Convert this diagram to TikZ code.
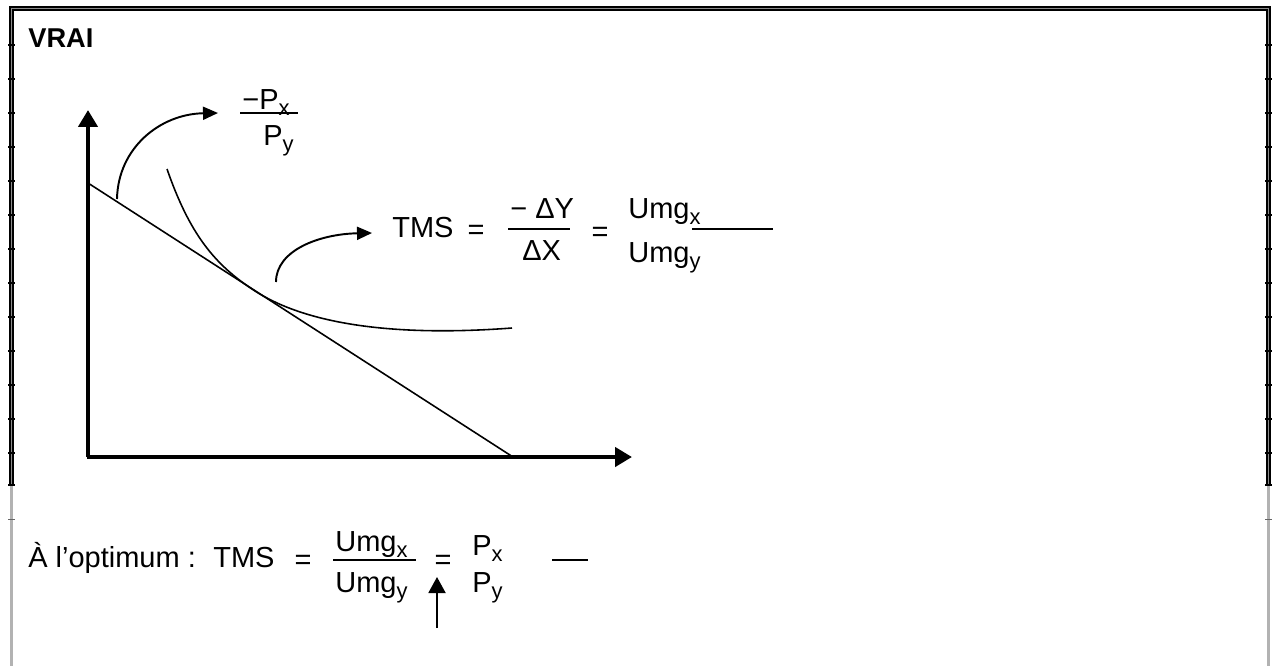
\documentclass[tikz,border=0pt]{standalone}
\usepackage{fontspec}
\setmainfont{Liberation Sans}
\usetikzlibrary{arrows.meta,calc}

\newcommand{\txtsize}{\fontsize{16.5}{19}\selectfont}
\newcommand{\sbx}[1]{\raisebox{-0.22em}{\fontsize{12.5}{14}\selectfont #1}}

\begin{document}
\begin{tikzpicture}[
  x=0.02cm, y=-0.02cm,
  txt/.style={inner sep=0pt, font=\txtsize, anchor=base west},
  eqs/.style={inner sep=0pt, font=\txtsize, anchor=base},
  fbar/.style={line width=0.85pt},
  axis/.style={line width=2.8pt, -{Triangle[length=0.34cm, width=0.38cm]}},
  curvarr/.style={line width=1.1pt, -{Triangle[length=0.3cm, width=0.26cm]}},
  upar/.style={line width=1.1pt, -{Triangle[length=0.32cm, width=0.34cm]}},
  thin/.style={line width=0.9pt},
  frameA/.style={draw=black, double=black!45, line width=0.85pt, double distance=0.85pt},
  frameB/.style={draw=black!60, double=black!30, line width=0.5pt, double distance=1.2pt},
]
\useasboundingbox (0,0) rectangle (1277,666);

%% Frame
\coordinate (tl) at (11.5,8.5);
\coordinate (tr) at (1268.5,8.5);
\coordinate (lm) at (11.5,485);
\coordinate (rm) at (1268.5,485);
\coordinate (lb) at (11.5,666);
\coordinate (rb) at (1268.5,666);
\draw[frameA] (lm) -- (tl) -- (tr) -- (rm);
\draw[frameB] (lm) -- (lb);
\draw[frameB] (rm) -- (rb);
\foreach \ty in {45,79,...,453,485}{
  \draw[line width=0.6pt] (8,\ty) -- (15,\ty);
  \draw[line width=0.6pt] (1265,\ty) -- (1272,\ty);
}
\draw[line width=0.5pt, black!60] (8,519) -- (15,519);
\draw[line width=0.5pt, black!60] (1265,519) -- (1272,519);

%% Title
\node[inner sep=0pt, anchor=base west, font=\fontsize{15.5}{18}\selectfont\bfseries] (vrai) at (28,47) {VRAI};

%% Axes
\coordinate (O) at (88,457);
\coordinate (ytop) at (88,110);
\coordinate (xend) at (632,457);
\draw[axis] (O) -- (ytop);
\draw[axis] ($(O)+(-1.4,0)$) -- (xend);

%% Budget line and indifference curve
\coordinate (bA) at (88,183);
\coordinate (bB) at (513,457);
\draw[thin] (bA) -- (bB);
\coordinate (cA) at (167,169);
\coordinate (tang) at (255,291);
\coordinate (cB) at (512,328);
\draw[thin] (cA) .. controls (190,235) and (215,265) .. (tang)
            .. controls (300,320) and (380,338) .. (cB);

%% Slope of budget line
\node[txt] (px1) at (242,109) {−P\sbx{x}};
\node[txt] (py1) at (263,145) {P\sbx{y}};
\draw[fbar] (240,113) -- (298,113);
\coordinate (a1s) at (117,199);
\coordinate (a1e) at (218,113);
\draw[curvarr] (a1s) .. controls (118,148) and (160,114) .. (a1e);

%% TMS on the curve
\coordinate (a2s) at (276,282);
\coordinate (a2e) at (372,233);
\draw[curvarr] (a2s) .. controls (276,250) and (320,234) .. (a2e);
\node[txt] (tms1) at (392,237) {TMS};
\node[eqs] (eq1) at (476,239) {=};
\node[txt] (dy) at (510,218) {− ΔY};
\node[txt] (dx) at (522,260) {ΔX};
\draw[fbar] (508,229) -- (570,229);
\node[eqs] (eq2) at (600,241) {=};
\node[txt] (umgx1) at (628,218) {Umg\sbx{x}};
\node[txt] (umgy1) at (628,262) {Umg\sbx{y}};
\draw[fbar] (692,229) -- (773,229);

%% Optimum condition
\node[txt] (opt) at (28,567) {À l’optimum :};
\node[txt] (tms2) at (213,567) {TMS};
\node[eqs] (eq3) at (303,569) {=};
\node[txt] (umgx2) at (335,551) {Umg\sbx{x}};
\node[txt] (umgy2) at (335,592) {Umg\sbx{y}};
\draw[fbar] (333,560) -- (416,560);
\node[eqs] (eq4) at (443,569) {=};
\node[txt] (px2) at (472,555) {P\sbx{x}};
\node[txt] (py2) at (472,592) {P\sbx{y}};
\draw[fbar] (552,560) -- (588,560);
\coordinate (a3s) at (437,628);
\coordinate (a3e) at (437,577);
\draw[upar] (a3s) -- (a3e);

\end{tikzpicture}
\end{document}
